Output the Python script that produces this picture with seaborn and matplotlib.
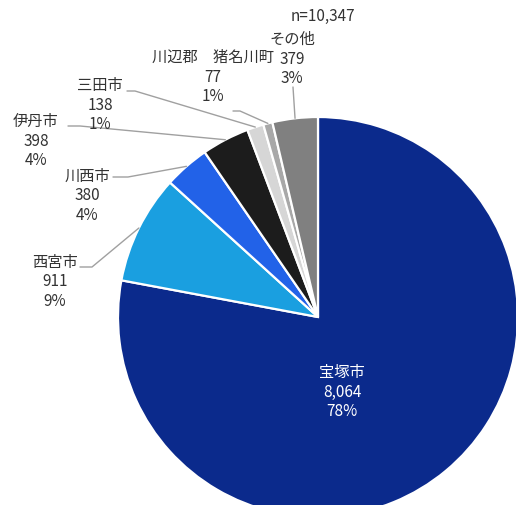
import matplotlib
matplotlib.use("Agg")
import matplotlib.pyplot as plt
import numpy as np
import seaborn as sns

# Residence breakdown of respondents
cities = ["宝塚市", "西宮市", "川西市", "伊丹市", "三田市", "川辺郡　猪名川町", "その他"]
counts = [8064, 911, 380, 398, 138, 77, 379]
percents = [78, 9, 4, 4, 1, 1, 3]
total_label = "n=10,347"

colors = ["#0b2a8c", "#1a9fe0", "#2262e8", "#1c1c1c", "#d6d6d6", "#a8a8a8", "#808080"]

sns.set_theme(style="white")
plt.rcParams["font.family"] = ["Noto Sans CJK JP", "DejaVu Sans"]

W, H = 516, 506
CX, CY, R = 318, 318, 200  # pie centre and radius in pixels

fig = plt.figure(figsize=(W / 100, H / 100), dpi=100)
fig.patch.set_facecolor("white")
ax = fig.add_axes([(CX - R) / W, (H - CY - R) / H, 2 * R / W, 2 * R / H])

wedges, _ = ax.pie(
    counts, colors=colors, startangle=90, counterclock=False, radius=1,
    wedgeprops=dict(edgecolor="white", linewidth=1.6),
)
ax.set_xlim(-1, 1)
ax.set_ylim(-1, 1)
ax.axis("off")


def p2d(px, py):
    return (px - CX) / R, (CY - py) / R


# label block centres (pixels) and leader-line start points
label_centres = [(342, 392), (55, 282), (87, 196), (36, 141), (100, 105), (213, 77), (292, 59)]
leader_starts = [None, [(80, 268), (92, 268)], [(113, 178), (128, 178)], [(68, 127), (80, 127)],
                 [(127, 92), (135, 92)], [(233, 112), (240, 112)], [(293, 88)]]

for i, (w, name, cnt, pct) in enumerate(zip(wedges, cities, counts, percents)):
    txt = f"{name}\n{cnt:,}\n{pct}%"
    x, y = p2d(*label_centres[i])
    ax.text(x, y, txt, ha="center", va="center", fontsize=11, linespacing=1.17,
            color="white" if i == 0 else "#333333", clip_on=False, zorder=5)
    if leader_starts[i] is not None:
        mid = np.deg2rad((w.theta1 + w.theta2) / 2)
        end = (np.cos(mid), np.sin(mid))
        pts = [p2d(*p) for p in leader_starts[i]] + [end]
        xs, ys = zip(*pts)
        ax.plot(xs, ys, color="#a0a0a0", lw=1.0, clip_on=False, zorder=3)

tx, ty = p2d(323, 16)
ax.text(tx, ty, total_label, ha="center", va="center", fontsize=11, color="#333333", clip_on=False)

fig.savefig("out.png", dpi=100, facecolor="white")
